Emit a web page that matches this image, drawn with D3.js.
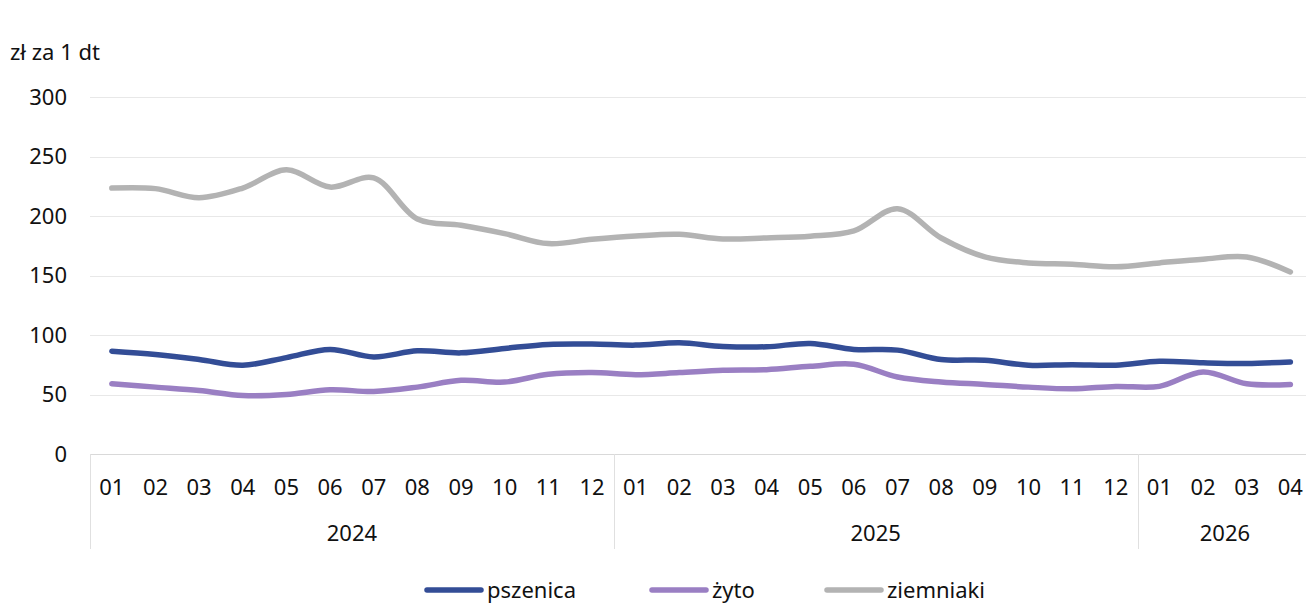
<!DOCTYPE html>
<html>
<head>
<meta charset="utf-8">
<script src="https://cdn.jsdelivr.net/npm/d3@7"></script>
<style>
  body { margin: 0; background: #fff; }
  text { font-family: "Noto Sans", "Open Sans", sans-serif; fill: #111; }
</style>
</head>
<body>
<script>
// months & years
var months = ["01","02","03","04","05","06","07","08","09","10","11","12",
              "01","02","03","04","05","06","07","08","09","10","11","12",
              "01","02","03","04"]
var years = ["2024", "2025", "2026"]
var yearCounts = [12, 12, 4]

// series (zł za 1 dt)
var pszenica = [86.4, 83.6, 79.4, 74.6, 81, 87.9, 81.6, 86.7, 85, 88.7, 92.1, 92.4, 91.5, 93.5,
                90.4, 90.1, 92.9, 87.9, 87.3, 79.4, 78.8, 74.6, 75.1, 74.6, 78, 76.6, 76, 77.4]
var zyto = [59, 56.2, 53.4, 49.2, 50, 54, 52.5, 56.2, 61.9, 60.5, 67, 68.4, 66.7, 68.4,
            70.3, 70.9, 73.7, 75.4, 64.7, 60.5, 58.5, 56.2, 54.8, 56.8, 56.8, 68.9, 59, 58.5]
var ziemniaki = [223.5, 223, 215.4, 223.5, 238.8, 224.3, 232, 197.5, 192.2, 185.2, 176.8, 180.4, 183.2, 184.6,
                 180.7, 181.6, 183, 187.4, 206.1, 181.5, 165.6, 160.6, 159.5, 157.3, 160.6, 163.7, 165.6, 153]

var yTicks = [0, 50, 100, 150, 200, 250, 300]

var series = [
  {name: "pszenica", values: pszenica, color: "#334d96"},
  {name: "żyto", values: zyto, color: "#9a7fc3"},
  {name: "ziemniaki", values: ziemniaki, color: "#b3b3b3"}
]

var W = 1306, H = 603
var plotLeft = 90, band = 43.65
var plotTop = 97, plotBottom = 454
var fs = 22

var svg = d3.select("body").append("svg")
  .attr("width", W)
  .attr("height", H)

var x = d3.scaleBand()
  .domain(d3.range(months.length))
  .range([plotLeft, plotLeft + band * months.length])
  .padding(0)

var y = d3.scaleLinear().domain([0, 300]).range([plotBottom, plotTop])

// grid
svg.append("g")
  .selectAll("line")
  .data(yTicks)
  .join("line")
  .attr("x1", plotLeft)
  .attr("x2", W)
  .attr("y1", d => Math.round(y(d)) + 0.5)
  .attr("y2", d => Math.round(y(d)) + 0.5)
  .attr("stroke", d => d === 0 ? "#d9d9d9" : "#e8e8e8")
  .attr("stroke-width", 1)

// y labels
svg.append("g")
  .selectAll("text")
  .data(yTicks)
  .join("text")
  .attr("x", 67)
  .attr("y", d => y(d))
  .attr("dy", "0.36em")
  .attr("text-anchor", "end")
  .attr("font-size", fs)
  .text(d => d)

svg.append("text")
  .attr("x", 10)
  .attr("y", 60)
  .attr("font-size", fs)
  .text("zł za 1 dt")

// month labels
svg.append("g")
  .selectAll("text")
  .data(months)
  .join("text")
  .attr("x", (d, i) => x(i) + x.bandwidth() / 2)
  .attr("y", 487)
  .attr("dy", "0.36em")
  .attr("text-anchor", "middle")
  .attr("font-size", fs)
  .text(d => d)

// year groups
var starts = []
var acc = 0
yearCounts.forEach(function(c) { starts.push(acc); acc += c })

svg.append("g")
  .selectAll("line")
  .data(starts)
  .join("line")
  .attr("x1", d => Math.round(x(d)) + 0.5)
  .attr("x2", d => Math.round(x(d)) + 0.5)
  .attr("y1", plotBottom)
  .attr("y2", 549)
  .attr("stroke", "#e0e0e0")

svg.append("g")
  .selectAll("text")
  .data(years)
  .join("text")
  .attr("x", (d, i) => x(starts[i]) + yearCounts[i] * band / 2)
  .attr("y", 533)
  .attr("dy", "0.36em")
  .attr("text-anchor", "middle")
  .attr("font-size", fs)
  .text(d => d)

// lines
var line = d3.line()
  .x((d, i) => x(i) + x.bandwidth() / 2)
  .y(d => y(d))
  .curve(d3.curveCatmullRom.alpha(0.5))

svg.append("g")
  .selectAll("path")
  .data(series)
  .join("path")
  .attr("d", d => line(d.values))
  .attr("fill", "none")
  .attr("stroke", d => d.color)
  .attr("stroke-width", 5.5)
  .attr("stroke-linecap", "round")
  .attr("stroke-linejoin", "round")

// legend
var legendX = [427, 652, 827]
var legend = svg.append("g")
  .selectAll("g")
  .data(series)
  .join("g")
  .attr("transform", (d, i) => "translate(" + legendX[i] + ",590)")

legend.append("line")
  .attr("x1", 0)
  .attr("x2", 54)
  .attr("stroke", d => d.color)
  .attr("stroke-width", 5.5)
  .attr("stroke-linecap", "round")

legend.append("text")
  .attr("x", 60)
  .attr("dy", "0.36em")
  .attr("font-size", fs)
  .text(d => d.name)
</script>
</body>
</html>
